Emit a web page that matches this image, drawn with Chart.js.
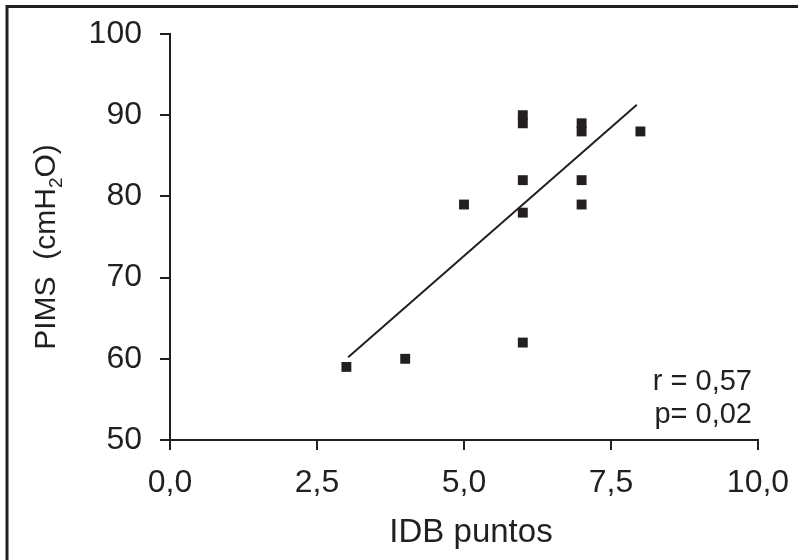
<!DOCTYPE html>
<html>
<head>
<meta charset="utf-8">
<script src="https://cdn.jsdelivr.net/npm/chart.js@4/dist/chart.umd.min.js"></script>
<style>
  html, body { margin: 0; padding: 0; background: #fff; }
  #wrap { width: 798px; height: 560px; }
</style>
</head>
<body>
<div id="wrap"><canvas id="chart"></canvas></div>
<script>
// IDB score vs PIMS, one entry per patient
const idbScore = [3, 4, 5, 6, 6, 6, 6, 6, 7, 7, 7, 7, 8];
const pimsValue = [59, 60, 79, 62, 78, 82, 89, 90, 79, 82, 88, 89, 88];

// regression line end points
const fitX = [3.03, 7.94];
const fitY = [60.2, 91.3];

const xTicks = [0, 2.5, 5, 7.5, 10];
const statsLines = ['r = 0,57', 'p= 0,02'];

const INK = '#231f20';
const FONT = '"Liberation Sans", Arial, Helvetica, sans-serif';

const fmtComma = v => Number(v).toFixed(1).replace('.', ',');

// keep the plot box fixed: no extra room for overhanging tick labels
const noOverhang = s => {
  s.paddingTop = 0;
  s.paddingBottom = 0;
  s.paddingLeft = 0;
  s.paddingRight = 0;
};

// frame, rotated y title with subscript, x title and r/p note
const decorations = {
  id: 'decorations',
  afterDraw(chart) {
    const { ctx, chartArea } = chart;
    ctx.save();
    ctx.fillStyle = INK;
    ctx.strokeStyle = INK;

    ctx.lineWidth = 3;
    ctx.beginPath();
    ctx.moveTo(7, 560);
    ctx.lineTo(7, 6.5);
    ctx.lineTo(798, 6.5);
    ctx.stroke();

    // y title: PIMS  (cmH2O)
    const main = '30px ' + FONT;
    const sub = '19px ' + FONT;
    const parts = [
      { t: 'PIMS  (cmH', f: main, dy: 0 },
      { t: '2', f: sub, dy: 7 },
      { t: 'O)', f: main, dy: 0 },
    ];
    let total = 0;
    parts.forEach(p => { ctx.font = p.f; p.w = ctx.measureText(p.t).width; total += p.w; });
    ctx.save();
    ctx.translate(55, 247);
    ctx.rotate(-Math.PI / 2);
    ctx.textBaseline = 'alphabetic';
    ctx.textAlign = 'left';
    let x = -total / 2;
    parts.forEach(p => { ctx.font = p.f; ctx.fillText(p.t, x, p.dy); x += p.w; });
    ctx.restore();

    // x title
    ctx.font = '33px ' + FONT;
    ctx.textAlign = 'center';
    ctx.textBaseline = 'alphabetic';
    ctx.fillText('IDB puntos', 471, 542);

    // correlation note
    ctx.font = '29px ' + FONT;
    ctx.textAlign = 'right';
    ctx.fillText(statsLines[0], chartArea.right - 6, 390);
    ctx.fillText(statsLines[1], chartArea.right - 6, 423);
    ctx.restore();
  }
};

const points = idbScore.map((x, i) => ({ x, y: pimsValue[i] }));
const fitLine = fitX.map((x, i) => ({ x, y: fitY[i] }));

new Chart(document.getElementById('chart'), {
  type: 'scatter',
  data: {
    datasets: [
      {
        data: points,
        pointStyle: 'rect',
        pointRadius: 7,
        borderWidth: 0,
        backgroundColor: INK,
      },
      {
        type: 'line',
        data: fitLine,
        borderColor: INK,
        borderWidth: 2,
        pointRadius: 0,
        fill: false,
      },
    ],
  },
  options: {
    responsive: true,
    maintainAspectRatio: false,
    animation: false,
    layout: { padding: { left: 0, top: 34, right: 40, bottom: 0 } },
    plugins: {
      legend: { display: false },
      tooltip: { enabled: false },
    },
    scales: {
      x: {
        type: 'linear',
        min: 0,
        max: 10,
        afterBuildTicks: s => { s.ticks = xTicks.map(v => ({ value: v })); },
        afterFit: s => { s.height = 120; noOverhang(s); },
        grid: { drawOnChartArea: false, drawTicks: true, tickLength: 10, color: INK, lineWidth: 2 },
        border: { color: INK, width: 2 },
        ticks: {
          color: INK,
          padding: 14,
          maxRotation: 0,
          font: { family: FONT, size: 32 },
          callback: fmtComma,
        },
      },
      y: {
        min: 50,
        max: 100,
        afterFit: s => { s.width = 170; noOverhang(s); },
        grid: { drawOnChartArea: false, drawTicks: true, tickLength: 10, color: INK, lineWidth: 2 },
        border: { color: INK, width: 2 },
        ticks: {
          stepSize: 10,
          color: INK,
          padding: 18,
          font: { family: FONT, size: 32 },
        },
      },
    },
  },
  plugins: [decorations],
});
</script>
</body>
</html>
